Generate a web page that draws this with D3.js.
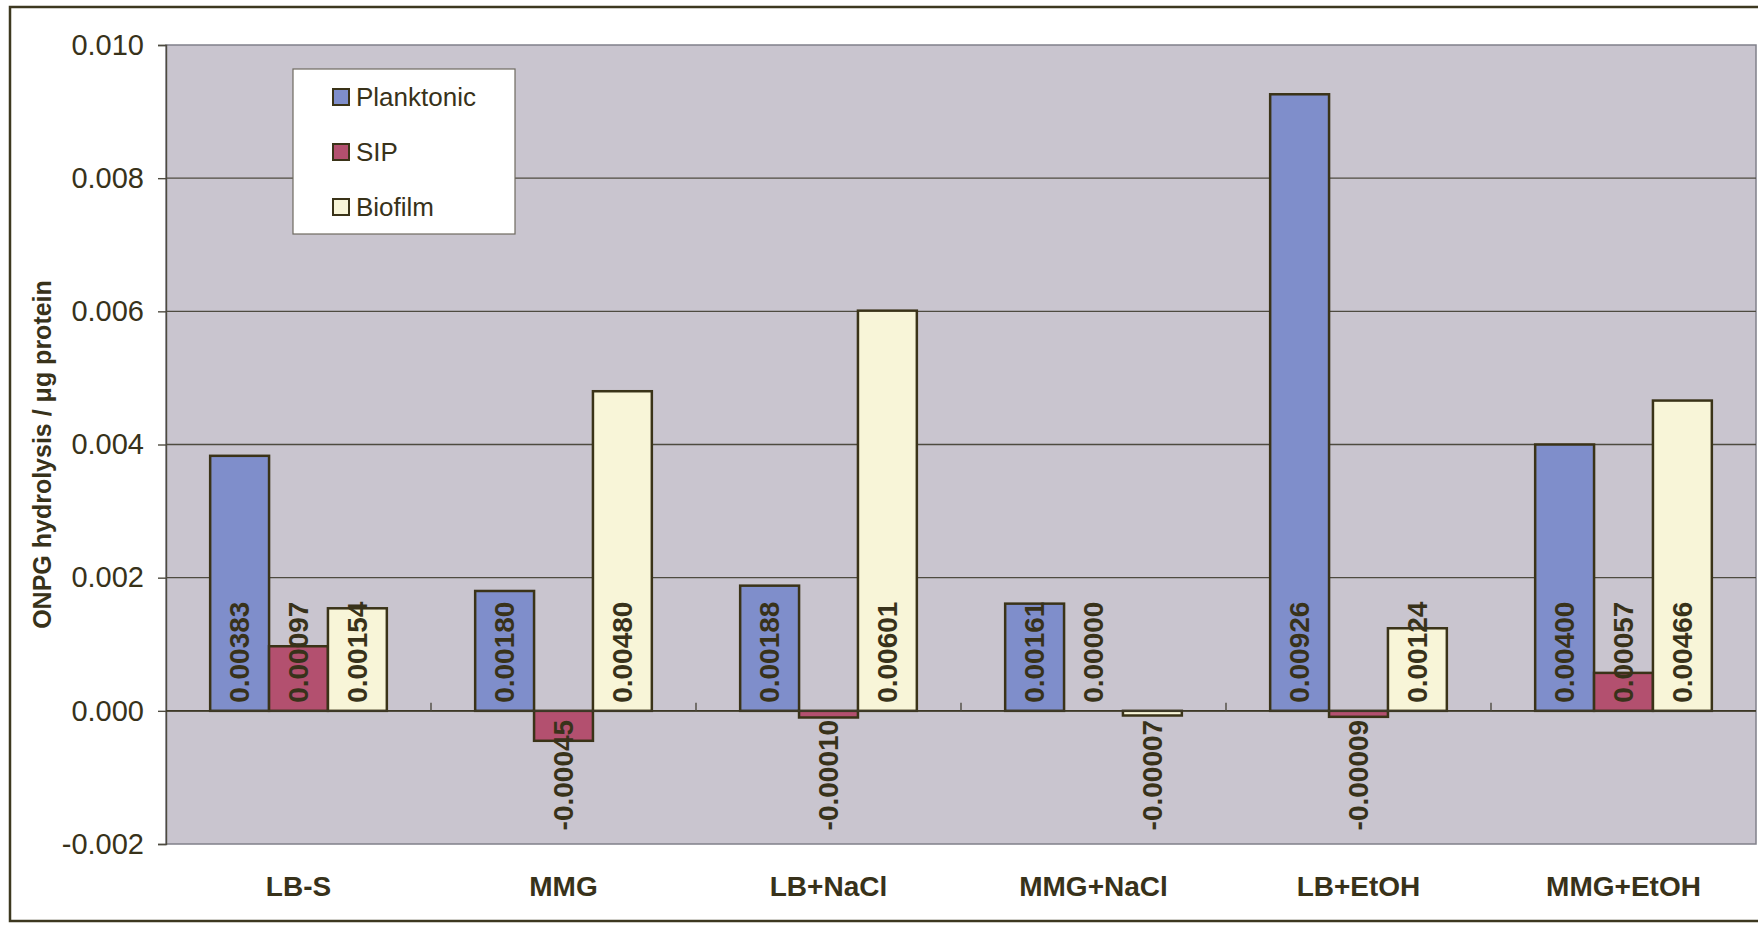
<!DOCTYPE html>
<html>
<head>
<meta charset="utf-8">
<script src="https://cdn.jsdelivr.net/npm/d3@7"></script>
<style>
  html, body { margin: 0; padding: 0; background: #ffffff; }
  svg { display: block; font-family: Arial, "Liberation Sans", sans-serif; }
</style>
</head>
<body>
<svg id="chart" width="1758" height="929"></svg>
<script>
// Growth conditions along the category axis
const categories = ["LB-S", "MMG", "LB+NaCl", "MMG+NaCl", "LB+EtOH", "MMG+EtOH"];
// Series names shown in the legend
const seriesNames = ["Planktonic", "SIP", "Biofilm"];
// ONPG hydrolysis per µg protein for each series
const planktonic = [0.00383, 0.00180, 0.00188, 0.00161, 0.00926, 0.00400];
const sip        = [0.00097, -0.00045, -0.00010, 0.00000, -0.00009, 0.00057];
const biofilm    = [0.00154, 0.00480, 0.00601, -0.00007, 0.00124, 0.00466];
// Value axis ticks
const yTicks = [-0.002, 0.000, 0.002, 0.004, 0.006, 0.008, 0.010];
const yTitle = "ONPG hydrolysis / \u03bcg protein";

const seriesValues = [planktonic, sip, biofilm];
const fills = ["#7f8ecb", "#b3506f", "#f8f5d8"];
const ink = "#38321a";

const svg = d3.select("#chart");
const plot = { left: 166, right: 1756, top: 45, bottom: 844 };

const y = d3.scaleLinear().domain([-0.002, 0.010]).range([plot.bottom, plot.top]);
const x0 = d3.scaleBand().domain(categories).range([plot.left, plot.right]).padding(0);
const x1 = d3.scaleBand().domain(seriesNames).range([0, x0.bandwidth()])
  .paddingInner(0).paddingOuter(0.75);
const color = d3.scaleOrdinal().domain(seriesNames).range(fills);

const fmtTick = d => d3.format(".3f")(d).replace("\u2212", "-");
const fmtVal = d => d3.format(".5f")(d).replace("\u2212", "-");

// Outer chart frame
svg.append("rect")
  .attr("x", 10).attr("y", 7).attr("width", 1760).attr("height", 914)
  .attr("fill", "#ffffff").attr("stroke", "#3d3820").attr("stroke-width", 2.5);

// Plot area
svg.append("rect")
  .attr("x", plot.left).attr("y", plot.top)
  .attr("width", plot.right - plot.left).attr("height", plot.bottom - plot.top)
  .attr("fill", "#c9c5cf").attr("stroke", "#80808a").attr("stroke-width", 1.5);

// Horizontal gridlines
svg.append("g").selectAll("line")
  .data(yTicks.filter(t => t > -0.002 && t < 0.010))
  .join("line")
  .attr("x1", plot.left).attr("x2", plot.right)
  .attr("y1", d => y(d)).attr("y2", d => y(d))
  .attr("stroke", "#4e4b40").attr("stroke-width", 1.4);

// Value axis
const yAxis = svg.append("g")
  .attr("transform", `translate(${plot.left},0)`)
  .call(d3.axisLeft(y).tickValues(yTicks).tickFormat(fmtTick).tickSize(8).tickPadding(14));
yAxis.select(".domain").attr("stroke", "#4e4b40").attr("stroke-width", 1.4);
yAxis.selectAll(".tick line").attr("stroke", "#4e4b40").attr("stroke-width", 1.4);
yAxis.selectAll(".tick text")
  .attr("fill", ink).attr("font-size", 29).attr("font-family", "Arial, 'Liberation Sans', sans-serif");

// Axis title
svg.append("text")
  .attr("transform", `translate(42,${(plot.top + plot.bottom) / 2 + 10}) rotate(-90)`)
  .attr("text-anchor", "middle").attr("dominant-baseline", "central")
  .attr("font-size", 25).attr("font-weight", "bold").attr("fill", ink)
  .text(yTitle);

// Bars
const groups = svg.append("g").selectAll("g")
  .data(categories)
  .join("g")
  .attr("transform", d => `translate(${x0(d)},0)`);

const cells = groups.selectAll("g.cell")
  .data((c, i) => seriesNames.map((s, j) => ({ series: s, value: seriesValues[j][i] })))
  .join("g").attr("class", "cell");

cells.append("rect")
  .attr("x", d => x1(d.series))
  .attr("y", d => y(Math.max(0, d.value)))
  .attr("width", x1.bandwidth())
  .attr("height", d => Math.abs(y(d.value) - y(0)))
  .attr("fill", d => color(d.series))
  .attr("stroke", "#3a3318").attr("stroke-width", 2.5);

// Category axis line at zero and boundary ticks
svg.append("line")
  .attr("x1", plot.left).attr("x2", plot.right)
  .attr("y1", y(0)).attr("y2", y(0))
  .attr("stroke", "#3e3a28").attr("stroke-width", 1.6);
svg.append("g").selectAll("line")
  .data(categories.slice(1))
  .join("line")
  .attr("x1", d => x0(d)).attr("x2", d => x0(d))
  .attr("y1", y(0)).attr("y2", y(0) - 8)
  .attr("stroke", "#4e4b40").attr("stroke-width", 1.4);

// Value labels near the bar bases
cells.append("text")
  .attr("transform", d => {
    const cx = x1(d.series) + x1.bandwidth() / 2;
    const ly = d.value >= 0 ? y(0) - 8 : y(0) + 9;
    return `translate(${cx},${ly}) rotate(-90)`;
  })
  .attr("text-anchor", d => d.value >= 0 ? "start" : "end")
  .attr("dominant-baseline", "central")
  .attr("font-size", 28).attr("font-weight", "bold").attr("fill", ink)
  .text(d => fmtVal(d.value));

// Category labels
svg.append("g").selectAll("text")
  .data(categories)
  .join("text")
  .attr("x", d => x0(d) + x0.bandwidth() / 2)
  .attr("y", 896)
  .attr("text-anchor", "middle")
  .attr("font-size", 28).attr("font-weight", "bold").attr("fill", ink)
  .text(d => d);

// Legend
const legend = svg.append("g");
legend.append("rect")
  .attr("x", 293).attr("y", 69).attr("width", 222).attr("height", 165)
  .attr("fill", "#ffffff").attr("stroke", "#6e6a60").attr("stroke-width", 1.2);
const rowY = d3.scalePoint().domain(seriesNames).range([97, 207]);
const items = legend.selectAll("g").data(seriesNames).join("g")
  .attr("transform", d => `translate(0,${rowY(d)})`);
items.append("rect")
  .attr("x", 333).attr("y", -8).attr("width", 16).attr("height", 16)
  .attr("fill", d => color(d)).attr("stroke", "#3a3318").attr("stroke-width", 2);
items.append("text")
  .attr("x", 356).attr("y", 0).attr("dominant-baseline", "central")
  .attr("font-size", 26).attr("fill", ink)
  .text(d => d);
</script>
</body>
</html>
